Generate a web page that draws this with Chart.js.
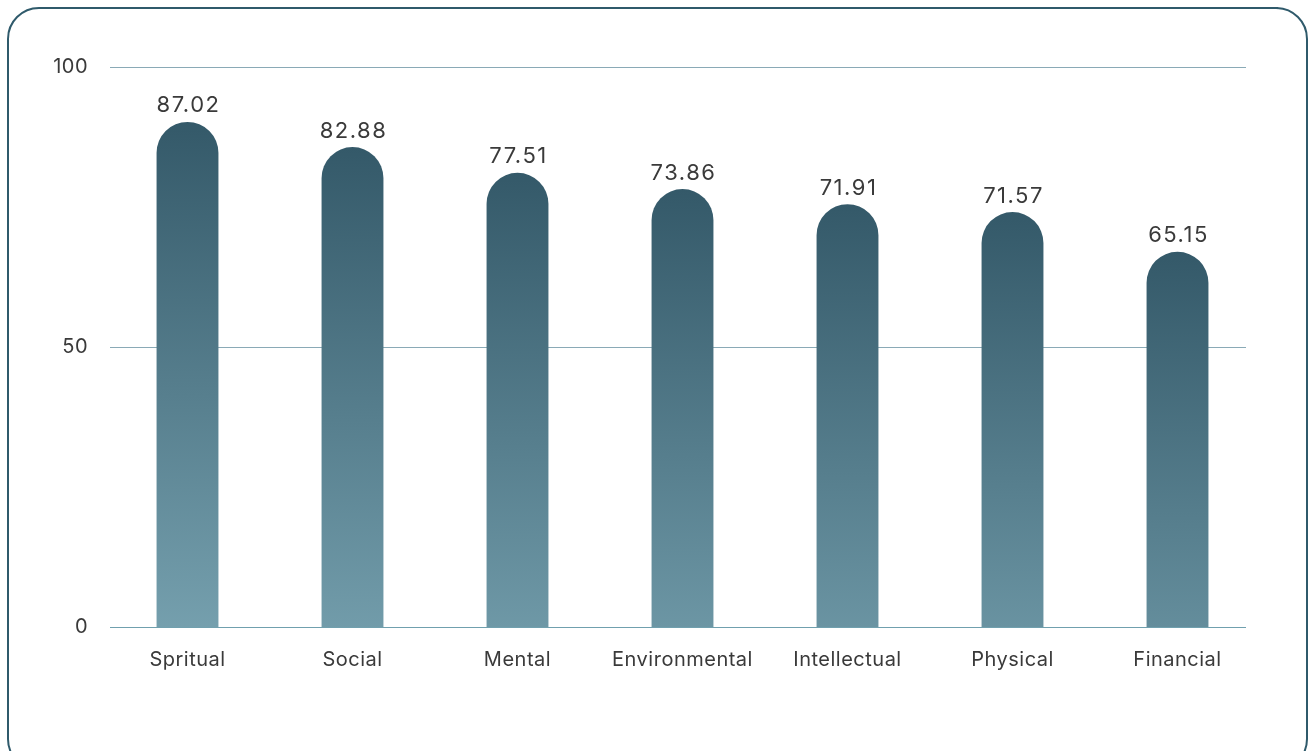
<!DOCTYPE html>
<html>
<head>
<meta charset="utf-8">
<script src="https://cdn.jsdelivr.net/npm/chart.js@4"></script>
<style>
  html, body { margin: 0; padding: 0; background: #fff; }
  #wrap { position: relative; width: 1308px; height: 751px; overflow: hidden; }
  #frame {
    position: absolute; left: 7px; top: 7px; width: 1297px; height: 760px;
    border: 2px solid #2f5a6b; border-radius: 32px; pointer-events: none;
  }
  canvas { position: absolute; left: 0; top: 0; }
</style>
</head>
<body>
<div id="wrap">
  <canvas id="container" width="1308" height="751"></canvas>
  <div id="frame"></div>
</div>
<script>
const categories = ['Spritual', 'Social', 'Mental', 'Environmental', 'Intellectual', 'Physical', 'Financial'];
// bar heights as drawn against the axis
const barValues = [90.2, 85.7, 81.1, 78.2, 75.5, 74.1, 67.0];
// scores printed above the bars
const scoreLabels = ['87.02', '82.88', '77.51', '73.86', '71.91', '71.57', '65.15'];
const yTicks = [0, 50, 100];

const FONT = 'Inter, "Noto Sans", sans-serif';

function barGradient(context)
{
  const chart = context.chart;
  const area = chart.chartArea;
  if (!area) return '#3a6070';
  const y = chart.scales.y;
  const top = y.getPixelForValue(context.parsed ? context.parsed.y : 0);
  const g = chart.ctx.createLinearGradient(0, top, 0, top + 540);
  g.addColorStop(0, 'rgb(52,89,105)');
  g.addColorStop(1, 'rgb(121,164,178)');
  return g;
}

const spacing = {
  id: 'spacing',
  beforeDraw(chart) { chart.ctx.letterSpacing = '0.5px'; }
};

const gridLines = {
  id: 'gridLines',
  beforeDatasetsDraw(chart) {
    const ctx = chart.ctx;
    const y = chart.scales.y;
    const a = chart.chartArea;
    ctx.save();
    ctx.lineWidth = 1;
    yTicks.forEach(v => {
      const py = Math.round(y.getPixelForValue(v)) + 0.5;
      ctx.strokeStyle = v === 0 ? 'rgb(112,160,174)' : 'rgb(138,170,182)';
      ctx.beginPath();
      ctx.moveTo(a.left + 5, py);
      ctx.lineTo(a.right - 14, py);
      ctx.stroke();
    });
    ctx.restore();
  }
};

const valueLabels = {
  id: 'valueLabels',
  afterDatasetsDraw(chart) {
    const ctx = chart.ctx;
    const meta = chart.getDatasetMeta(0);
    ctx.save();
    ctx.font = '22px ' + FONT;
    ctx.letterSpacing = '1.5px';
    ctx.fillStyle = '#3a3a3a';
    ctx.textAlign = 'center';
    ctx.textBaseline = 'bottom';
    meta.data.forEach((bar, i) => {
      ctx.fillText(scoreLabels[i], bar.x + 1, bar.y - 5);
    });
    ctx.restore();
  }
};

new Chart(document.getElementById('container'), {
  type: 'bar',
  data: {
    labels: categories,
    datasets: [{
      data: barValues,
      backgroundColor: barGradient,
      borderRadius: 31,
      borderSkipped: 'start',
      barPercentage: 0.375,
      categoryPercentage: 1
    }]
  },
  options: {
    responsive: false,
    animation: false,
    layout: { padding: { left: 0, right: 48, top: 67, bottom: 0 } },
    plugins: { legend: { display: false }, tooltip: { enabled: false } },
    scales: {
      x: {
        grid: { display: false, drawTicks: false },
        border: { display: false },
        ticks: { color: '#3a3a3a', font: { family: FONT, size: 20 }, padding: 21 },
        afterFit(scale) { scale.height = 124; }
      },
      y: {
        min: 0,
        max: 100,
        afterBuildTicks(scale) { scale.ticks = yTicks.map(v => ({ value: v })); },
        grid: { display: false, drawTicks: false },
        border: { display: false },
        ticks: { color: '#3a3a3a', font: { family: FONT, size: 20 }, padding: 17 },
        afterFit(scale) { scale.width = 105; }
      }
    }
  },
  plugins: [spacing, gridLines, valueLabels]
});
</script>
</body>
</html>
